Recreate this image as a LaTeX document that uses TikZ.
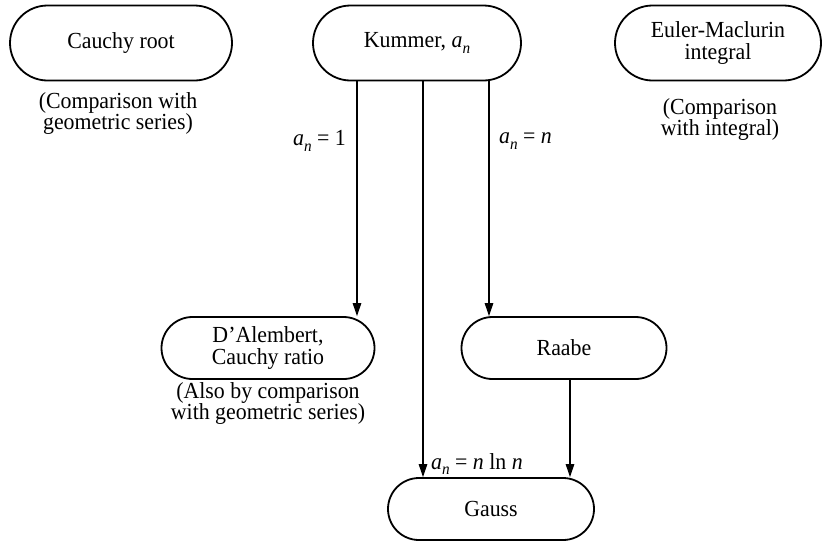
\documentclass[tikz,border=0pt]{standalone}
\usepackage{fontspec}
\setmainfont{Liberation Serif}[FakeStretch=0.95]
\usetikzlibrary{shapes.misc,arrows.meta}
\newcommand\myan{\textit{a}\raisebox{-0.5ex}{\fontsize{16}{16}\selectfont\textit{n}}}
\begin{document}
\begin{tikzpicture}[x=1pt,y=1pt,
  box/.style={rounded rectangle, draw, line width=1.8pt, minimum width=212pt, minimum height=75pt, inner sep=0pt, align=center, font=\fontsize{23}{22.5}\selectfont},
  midbox/.style={box, minimum height=62pt},
  note/.style={align=center, font=\fontsize{23}{21}\selectfont, inner sep=0pt},
  lbl/.style={font=\fontsize{23}{20}\selectfont, inner sep=0pt},
  conn/.style={line width=1.2pt},
  arr/.style={conn, -{Triangle[length=13pt,width=8.5pt]}}]
\useasboundingbox (0,0) rectangle (829,-544);
\node[box, minimum width=222pt] (cauchy) at (121,-43) {Cauchy root};
\node[box, minimum width=208pt] (kummer) at (417,-43) {Kummer, \myan};
\node[box, minimum width=206pt] (euler) at (718,-43) {Euler-Maclurin\\integral};
\node[note] (cauchynote) at (118,-113) {(Comparison with\\geometric series)};
\node[note] (eulernote) at (720,-119) {(Comparison\\with integral)};
\node[midbox, minimum width=213pt] (dal) at (268,-348) {D'Alembert,\\Cauchy ratio};
\node[midbox, minimum width=205pt] (raabe) at (564,-348) {Raabe};
\node[note] (dalnote) at (268,-403) {(Also by comparison\\with geometric series)};
\node[midbox, minimum width=206pt] (gauss) at (491,-509) {Gauss};
\coordinate (xa) at (357,0);
\coordinate (xb) at (423,0);
\coordinate (xc) at (489,0);
\coordinate (xd) at (570,0);
\draw[arr] (kummer.south -| xa) -- (dal.north -| xa);
\draw[arr] (kummer.south -| xc) -- (raabe.north -| xc);
\draw[arr] (kummer.south -| xb) -- (gauss.north -| xb);
\draw[arr] (raabe.south -| xd) -- (gauss.north -| xd);
\node[lbl, anchor=east] (l1) at (346,-141) {\myan\ = 1};
\node[lbl, anchor=west] (l2) at (499,-141) {\myan\ = \textit{n}};
\node[lbl, anchor=west] (l3) at (431,-464) {\myan\ = \textit{n} ln \textit{n}};
\end{tikzpicture}
\end{document}
